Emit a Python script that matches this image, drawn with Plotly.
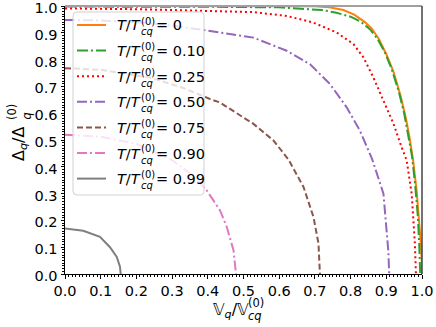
import plotly.graph_objects as go

# ---------------- data ----------------
labels = ["0", "0.10", "0.25", "0.50", "0.75", "0.90", "0.99"]

v_t000 = [0, 0.2, 0.4, 0.6, 0.70, 0.74, 0.78, 0.81, 0.84, 0.86, 0.88, 0.90, 0.92, 0.94, 0.955, 0.965, 0.975, 0.985, 0.992, 0.997, 0.9995, 1.0]
d_t000 = [1, 1, 1, 1, 0.999, 0.995, 0.985, 0.968, 0.94, 0.915, 0.875, 0.82, 0.755, 0.665, 0.58, 0.51, 0.425, 0.31, 0.21, 0.11, 0.04, 0]

v_t010 = [0, 0.2, 0.4, 0.6, 0.68, 0.72, 0.76, 0.80, 0.83, 0.855, 0.875, 0.895, 0.915, 0.935, 0.95, 0.962, 0.972, 0.981, 0.988, 0.992, 0.994, 0.995]
d_t010 = [0.998, 0.998, 0.997, 0.995, 0.99, 0.985, 0.975, 0.96, 0.94, 0.912, 0.878, 0.83, 0.765, 0.68, 0.60, 0.52, 0.44, 0.33, 0.22, 0.12, 0.05, 0]

v_t025 = [0, 0.1, 0.2, 0.3, 0.434, 0.528, 0.621, 0.696, 0.761, 0.808, 0.836, 0.864, 0.892, 0.920, 0.943, 0.957, 0.971, 0.980, 0.983]
d_t025 = [0.991, 0.990, 0.988, 0.985, 0.981, 0.977, 0.963, 0.938, 0.901, 0.858, 0.808, 0.733, 0.647, 0.561, 0.473, 0.424, 0.30, 0.115, 0]

v_t050 = [0, 0.1, 0.2, 0.3, 0.406, 0.528, 0.621, 0.686, 0.742, 0.789, 0.826, 0.860, 0.892, 0.901, 0.906, 0.908]
d_t050 = [0.948, 0.946, 0.94, 0.927, 0.907, 0.882, 0.833, 0.783, 0.709, 0.622, 0.535, 0.430, 0.30, 0.176, 0.08, 0]

v_t075 = [0, 0.1, 0.238, 0.330, 0.406, 0.434, 0.528, 0.584, 0.626, 0.668, 0.696, 0.710, 0.714]
d_t075 = [0.768, 0.762, 0.733, 0.695, 0.653, 0.640, 0.560, 0.498, 0.427, 0.325, 0.213, 0.114, 0]

v_t090 = [0, 0.1, 0.2, 0.3, 0.35, 0.397, 0.434, 0.453, 0.472, 0.479]
d_t090 = [0.520, 0.512, 0.486, 0.425, 0.375, 0.312, 0.238, 0.176, 0.089, 0]

v_t099 = [0, 0.051, 0.098, 0.126, 0.145, 0.154, 0.156]
d_t099 = [0.170, 0.161, 0.139, 0.100, 0.064, 0.027, 0]

series_v = [v_t000, v_t010, v_t025, v_t050, v_t075, v_t090, v_t099]
series_d = [d_t000, d_t010, d_t025, d_t050, d_t075, d_t090, d_t099]

x_ticks = [i / 10 for i in range(11)]
x_ticklabels = ["%.1f" % t for t in x_ticks]
y_ticks = [i / 10 for i in range(11)]
y_ticklabels = ["%.1f" % t for t in y_ticks]

# ---------------- styles ----------------
colors = ["#ff7f0e", "#2ca02c", "#ff0000", "#9467bd", "#8c564b", "#e377c2", "#7f7f7f"]
dashes = ["solid", "11px,3px,2px,3px", "2px,3px", "10px,3px,2px,3px", "6px,3px", "10px,3px,2px,3px", "solid"]
FONT = "DejaVu Sans"

W, H = 436, 327
L, R, T, B = 65, 422, 6, 274


def px(x):
    return (x - L) / (R - L)


def py(y):
    return (B - y) / (B - T)


def rounded_rect(x0, y0, x1, y1, r):
    pts = []
    pts.append("M %f,%f" % (px(x0 + r), py(y0)))
    pts.append("L %f,%f" % (px(x1 - r), py(y0)))
    pts.append("Q %f,%f %f,%f" % (px(x1), py(y0), px(x1), py(y0 + r)))
    pts.append("L %f,%f" % (px(x1), py(y1 - r)))
    pts.append("Q %f,%f %f,%f" % (px(x1), py(y1), px(x1 - r), py(y1)))
    pts.append("L %f,%f" % (px(x0 + r), py(y1)))
    pts.append("Q %f,%f %f,%f" % (px(x0), py(y1), px(x0), py(y1 - r)))
    pts.append("L %f,%f" % (px(x0), py(y0 + r)))
    pts.append("Q %f,%f %f,%f" % (px(x0), py(y0), px(x0 + r), py(y0)))
    pts.append("Z")
    return " ".join(pts)


fig = go.Figure()
for vv, dd, c, ds, lab in zip(series_v, series_d, colors, dashes, labels):
    fig.add_trace(go.Scatter(x=vv, y=dd, mode="lines", name="T/Tcq=" + lab,
                             line=dict(color=c, width=2, dash=ds), showlegend=False))

axis_common = dict(
    range=[0, 1], showgrid=False, zeroline=False, showline=True, linecolor="black", linewidth=1,
    ticks="outside", ticklen=3.5, tickwidth=1, tickcolor="black",
    tickfont=dict(family=FONT, size=14.5, color="black"),
    minor=dict(dtick=0.01, ticks="outside", ticklen=2, tickwidth=0.8, tickcolor="black"),
    automargin=False, ticklabeloverflow="allow",
)
fig.update_xaxes(tickvals=x_ticks, ticktext=x_ticklabels, **axis_common)
fig.update_yaxes(tickvals=y_ticks, ticktext=y_ticklabels, ticklabelshift=2, **axis_common)

shapes = []
shapes.append(dict(type="line", xref="paper", yref="paper", x0=0, x1=1, y0=1, y1=1,
                   line=dict(color="#a0a0a0", width=2), layer="above"))
shapes.append(dict(type="line", xref="paper", yref="paper", x0=1, x1=1, y0=0, y1=1,
                   line=dict(color="#444444", width=1.5), layer="above"))
shapes.append(dict(type="path", xref="paper", yref="paper", path=rounded_rect(73, 12, 204, 195, 4),
                   line=dict(color="#d0d0d0", width=1), fillcolor="rgba(255,255,255,0.8)", layer="above"))

annotations = []
entry_y = [25 + 25.6 * i for i in range(7)]
for i, (c, ds, lab) in enumerate(zip(colors, dashes, labels)):
    ey = entry_y[i]
    shapes.append(dict(type="line", xref="paper", yref="paper", x0=px(77), x1=px(106), y0=py(ey), y1=py(ey),
                       line=dict(color=c, width=2, dash=ds), layer="above"))
    annotations.append(dict(xref="paper", yref="paper", x=px(115), y=py(ey + 0.5), xanchor="left", yanchor="middle",
                            text="<i>T</i>/<i>T</i>", showarrow=False, font=dict(family=FONT, size=14.5, color="black")))
    annotations.append(dict(xref="paper", yref="paper", x=px(139), y=py(ey - 4), xanchor="left", yanchor="middle",
                            text="(0)", showarrow=False, font=dict(family=FONT, size=10, color="black")))
    annotations.append(dict(xref="paper", yref="paper", x=px(138.5), y=py(ey + 7), xanchor="left", yanchor="middle",
                            text="<i>cq</i>", showarrow=False, font=dict(family=FONT, size=10, color="black")))
    annotations.append(dict(xref="paper", yref="paper", x=px(154), y=py(ey + 0.5), xanchor="left", yanchor="middle",
                            text="= " + lab, showarrow=False, font=dict(family=FONT, size=14.5, color="black")))

annotations.append(dict(xref="paper", yref="paper", x=px(211), y=py(310), xanchor="left", yanchor="middle",
                        text="<i>\U0001D54D</i><sub><i>q</i></sub>/<i>\U0001D54D</i>", showarrow=False,
                        font=dict(family=FONT, size=16, color="black")))
annotations.append(dict(xref="paper", yref="paper", x=px(246), y=py(303), xanchor="left", yanchor="middle",
                        text="(0)", showarrow=False, font=dict(family=FONT, size=11.5, color="black")))
annotations.append(dict(xref="paper", yref="paper", x=px(246), y=py(316), xanchor="left", yanchor="middle",
                        text="<i>cq</i>", showarrow=False, font=dict(family=FONT, size=11.5, color="black")))

annotations.append(dict(xref="paper", yref="paper", x=px(19), y=py(163), xanchor="center", yanchor="bottom",
                        text="Δ<sub><i>q</i></sub>/Δ", textangle=-90, showarrow=False,
                        font=dict(family=FONT, size=16, color="black")))
annotations.append(dict(xref="paper", yref="paper", x=px(12), y=py(122), xanchor="center", yanchor="bottom",
                        text="(0)", textangle=-90, showarrow=False, font=dict(family=FONT, size=11.5, color="black")))
annotations.append(dict(xref="paper", yref="paper", x=px(26), y=py(122), xanchor="center", yanchor="bottom",
                        text="<i>q</i>", textangle=-90, showarrow=False, font=dict(family=FONT, size=11.5, color="black")))

fig.update_layout(
    width=W, height=H,
    margin=dict(l=L, r=W - R, t=T, b=H - B),
    paper_bgcolor="white", plot_bgcolor="white",
    shapes=shapes, annotations=annotations, showlegend=False,
    font=dict(family=FONT, color="black"),
)

fig.write_html("out.html", config={"displayModeBar": False},
               post_script="document.body.style.margin='0';document.body.style.padding='0';")
